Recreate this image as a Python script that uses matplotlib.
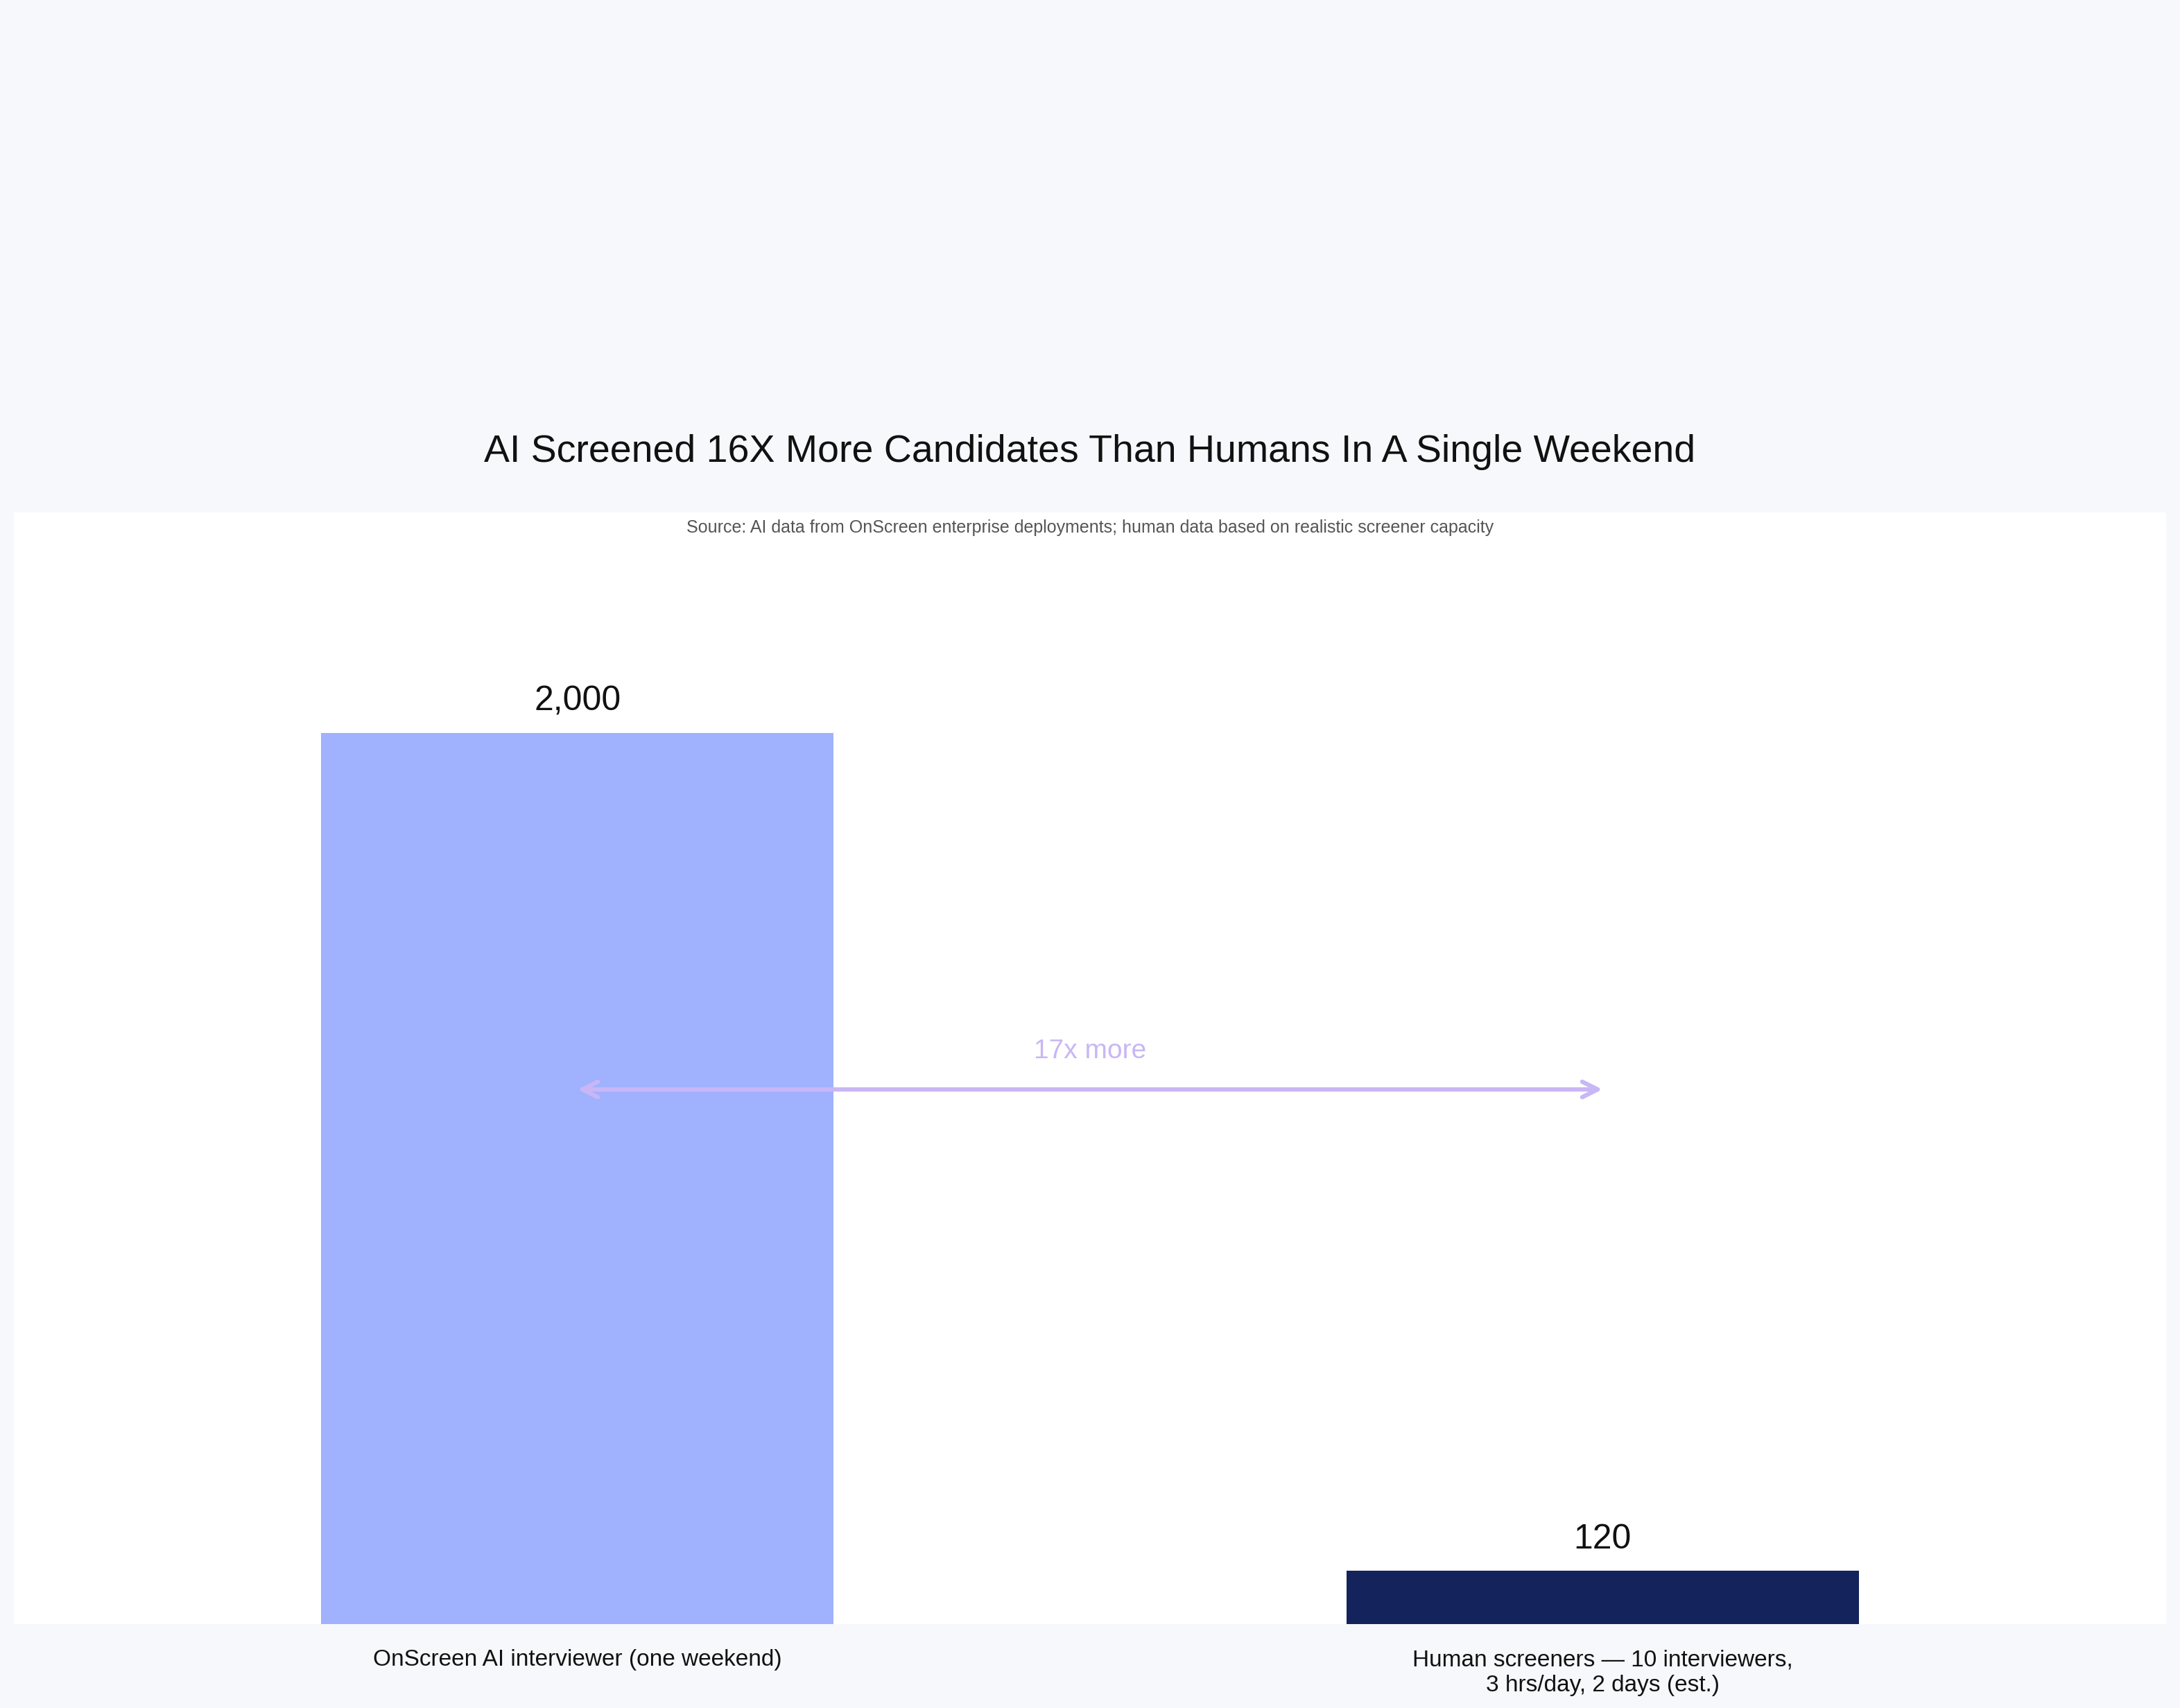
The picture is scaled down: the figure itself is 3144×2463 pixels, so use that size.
import matplotlib
matplotlib.use("Agg")
import matplotlib.pyplot as plt

plt.rcParams['font.family'] = ['Liberation Sans', 'DejaVu Sans']

# data
categories = ["OnScreen AI interviewer (one weekend)",
              "Human screeners \u2014 10 interviewers,\n3 hrs/day, 2 days (est.)"]
values = [2000, 120]
value_labels = ["2,000", "120"]
bar_colors = ["#A0B1FE", "#14235C"]
arrow_y = 1200
ratio_text = "17x more"

title = "AI Screened 16X More Candidates Than Humans In A Single Weekend"
source = "Source: AI data from OnScreen enterprise deployments; human data based on realistic screener capacity"

bg = "#F7F8FC"
fig = plt.figure(figsize=(31.44, 24.63), dpi=100, facecolor=bg)
ax = fig.add_axes([0.00636, 0.0491, 0.9873, 0.6509])
ax.set_facecolor("white")

x = list(range(len(categories)))
ax.bar(x, values, width=0.5, color=bar_colors, zorder=2)
for xi, v, lab in zip(x, values, value_labels):
    ax.annotate(lab, (xi, v), xytext=(0, 16), textcoords="offset points",
                ha="center", va="bottom", fontsize=36, color="#111111")

# comparison arrow between the bars
ax.annotate("", xy=(x[1], arrow_y), xytext=(x[0], arrow_y),
            arrowprops=dict(arrowstyle="<->", color="#C8B7F5", lw=4.5,
                            mutation_scale=40, shrinkA=0, shrinkB=0),
            zorder=3)
ax.text((x[0] + x[1]) / 2, arrow_y + 58, ratio_text, ha="center", va="bottom",
        fontsize=28, color="#C8B7F5", zorder=3)

ax.set_xlim(-0.55, 1.55)
ax.set_ylim(0, 2495)
ax.set_xticks(x)
ax.set_xticklabels(categories, fontsize=24, color="#111111", linespacing=1.25)
ax.tick_params(axis="x", length=0, pad=26)
ax.set_yticks([])
for s in ax.spines.values():
    s.set_visible(False)

fig.text(0.5, 0.7353, title, ha="center", va="center", fontsize=40, color="#111111")
ax.text(0.5, 0.9935, source, transform=ax.transAxes, ha="center", va="top",
        fontsize=18, color="#555555")

fig.savefig("out.png", dpi=100, facecolor=bg)
